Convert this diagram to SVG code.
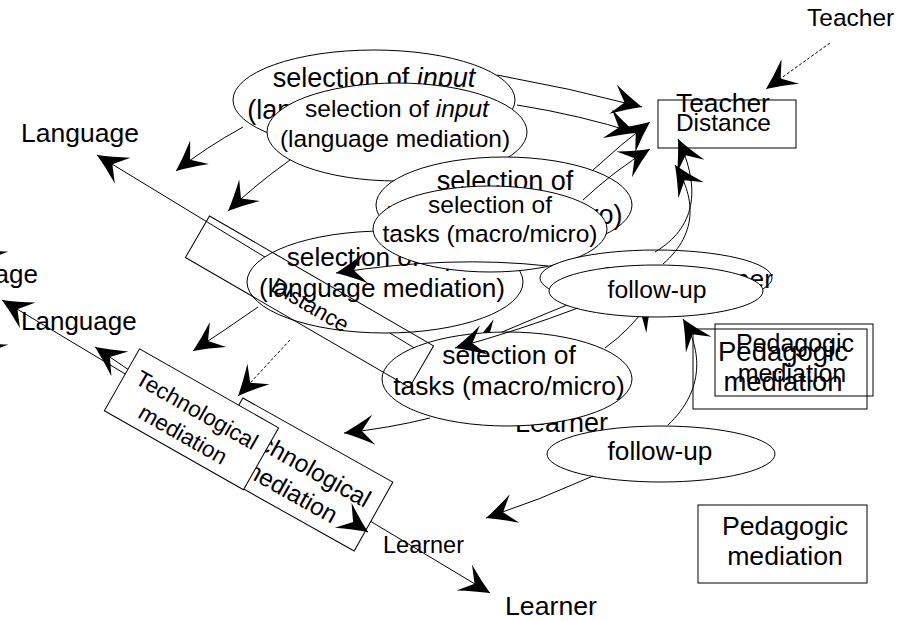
<svg xmlns="http://www.w3.org/2000/svg" width="899" height="621" viewBox="0 0 899 621">
<defs>
<marker id="ah" viewBox="-32 -17 34 34" refX="0" refY="0" markerWidth="34" markerHeight="34" markerUnits="userSpaceOnUse" orient="auto-start-reverse">
<path d="M0,0 Q-14,-6 -30,-15 L-18,0 L-30,15 Q-14,6 0,0 Z" fill="#000"/>
</marker>
<style>
text{font-family:"Liberation Sans",Arial,sans-serif;fill:#000}
.n ellipse{fill:#fff;stroke:#000;stroke-width:1}
.box{fill:#fff;stroke:#000;stroke-width:1}
.open{fill:none;stroke:#000;stroke-width:1}
.c path{fill:none;stroke:#000;stroke-width:1;marker-end:url(#ah)}
.dash{stroke-dasharray:3,2}
.m{text-anchor:middle}
</style>
</defs>
<rect width="899" height="621" fill="#fff"/>

<g id="axis-lines" class="open">
<path d="M500,400 L97,155" marker-end="url(#ah)"/>
<path d="M2,300 L490,593" marker-start="url(#ah)" marker-end="url(#ah)"/>
<path d="M95,347 L368,532" marker-start="url(#ah)"/>
<path d="M-25,249 L-24,249.6" marker-start="url(#ah)"/>
<path d="M-25,342 L-24,342.6" marker-start="url(#ah)"/>
</g>

<g id="labels">
<text x="21" y="142" font-size="26.5">Language</text>
<text x="38" y="283" font-size="26" text-anchor="end">Language</text>
<text x="21" y="330" font-size="26">Language</text>
<text x="807" y="26" font-size="24.5">Teacher</text>
<text x="515" y="432" font-size="27">Learner</text>
<text x="383" y="553" font-size="23.5">Learner</text>
<text x="505" y="615" font-size="26.7">Learner</text>
</g>

<g id="hidden-connectors" class="c">
<path d="M572,303 Q525,322 472,345"/>
<path d="M605,348 Q630,330 652,300"/>
</g>

<g id="n-input-1" class="n"><ellipse cx="374" cy="100" rx="141" ry="50"/>
<text class="m" x="374" y="87" font-size="27">selection of <tspan font-style="italic">input</tspan></text>
<text class="m" x="374" y="119" font-size="27">(language mediation)</text></g>
<g id="n-input-2" class="n"><ellipse cx="397" cy="132" rx="130" ry="49"/>
<text class="m" x="397" y="117" font-size="24.5">selection of <tspan font-style="italic">input</tspan></text>
<text class="m" x="395" y="147" font-size="24.5">(language mediation)</text></g>
<g id="n-tasks-1" class="n"><ellipse cx="504" cy="205" rx="128" ry="48"/>
<text class="m" x="505" y="190" font-size="27">selection of</text>
<text class="m" x="504" y="224" font-size="27">tasks (macro/micro)</text></g>
<g id="n-input-3" class="n"><ellipse cx="385" cy="282" rx="138" ry="51"/>
<text class="m" x="385" y="266" font-size="26.2">selection of <tspan font-style="italic">input</tspan></text>
<text class="m" x="382" y="297" font-size="26.2">(language mediation)</text></g>
<g id="n-tasks-2" class="n"><ellipse cx="490" cy="229" rx="117" ry="43"/>
<text class="m" x="490" y="213" font-size="24.5">selection of</text>
<text class="m" x="490" y="242" font-size="24.5">tasks (macro/micro)</text></g>
<g id="n-tasks-3" class="n"><ellipse cx="507" cy="379" rx="125" ry="47"/>
<text class="m" x="509" y="364" font-size="26.4">selection of</text>
<text class="m" x="509" y="395" font-size="26.4">tasks (macro/micro)</text></g>
<g id="n-follow-1" class="n"><ellipse cx="656" cy="278" rx="116" ry="28"/>
<text class="m" x="656" y="287" font-size="27">follow-up</text></g>
<text x="773" y="288" font-size="26.4" text-anchor="end">Learner</text>
<g id="n-follow-2" class="n"><ellipse cx="656" cy="291" rx="107" ry="26"/>
<text class="m" x="657" y="298" font-size="24.7">follow-up</text></g>
<g id="n-follow-3" class="n"><ellipse cx="661" cy="454" rx="114" ry="28"/>
<text class="m" x="660" y="460" font-size="26.2">follow-up</text></g>

<g id="n-tech-2"><g transform="translate(298.5,474.5) rotate(29.3)">
<rect class="box" x="-86" y="-39.5" width="172" height="79"/>
<text class="m" x="0" y="-3" font-size="24.5">Technological</text>
<text class="m" x="0" y="27" font-size="24.5">mediation</text></g></g>
<g id="n-tech-1"><g transform="translate(191.5,419.3) rotate(29.6)">
<rect class="box" x="-80" y="-35.6" width="160" height="71.2"/>
<text class="m" x="0" y="-3" font-size="22.5">Technological</text>
<text class="m" x="0" y="25" font-size="22.5">mediation</text></g></g>

<g id="n-distance-rot"><g transform="translate(309.5,301.7) rotate(30.1)">
<rect class="open" x="-129.5" y="-24" width="259" height="48"/>
<text class="m" x="2" y="10" font-size="22">Distance</text></g></g>

<g id="n-distance"><rect class="open" x="658" y="100" width="138" height="48"/>
<text x="676" y="112" font-size="26.4">Teacher</text>
<text x="676" y="131" font-size="24.4">Distance</text></g>

<g id="n-ped-1"><rect class="open" x="715" y="324" width="158" height="72"/>
<text class="m" x="795" y="352" font-size="25">Pedagogic</text>
<text class="m" x="792" y="382" font-size="25">mediation</text></g>
<g id="n-ped-2"><rect class="open" x="693" y="329" width="174" height="80"/>
<text class="m" x="783" y="361" font-size="27.5">Pedagogic</text>
<text class="m" x="783" y="391" font-size="27.5">mediation</text></g>
<g id="n-ped-3"><rect class="open" x="698" y="505" width="169" height="78"/>
<text class="m" x="785" y="535" font-size="26.7">Pedagogic</text>
<text class="m" x="785" y="565" font-size="26.7">mediation</text></g>

<g id="connectors" class="c">
<path d="M243,127 Q205,148 176,171"/>
<path d="M290,160 Q255,185 228,211"/>
<path d="M497,75 Q570,88 642,107"/>
<path d="M517,105 Q580,115 636,133"/>
<path d="M593,170 Q620,145 650,122"/>
<path d="M583,200 Q615,170 650,149"/>
<path class="dash" d="M830,43 L766,89"/>
<path d="M655,252 C695,228 702,190 678,139"/>
<path d="M663,264 C700,232 694,195 675,165"/>
<path d="M258,307 Q225,330 193,351"/>
<path class="dash" d="M290,340 L238,396"/>
<path d="M548,266 Q450,255 336,273"/>
<path d="M578,308 Q520,330 455,348"/>
<path d="M430,418 Q390,428 344,433"/>
<path d="M593,476 Q540,500 486,518"/>
<path d="M668,425 C705,390 702,350 683,319"/>
<path d="M360,526.6 L368,532"/>
</g>
</svg>
